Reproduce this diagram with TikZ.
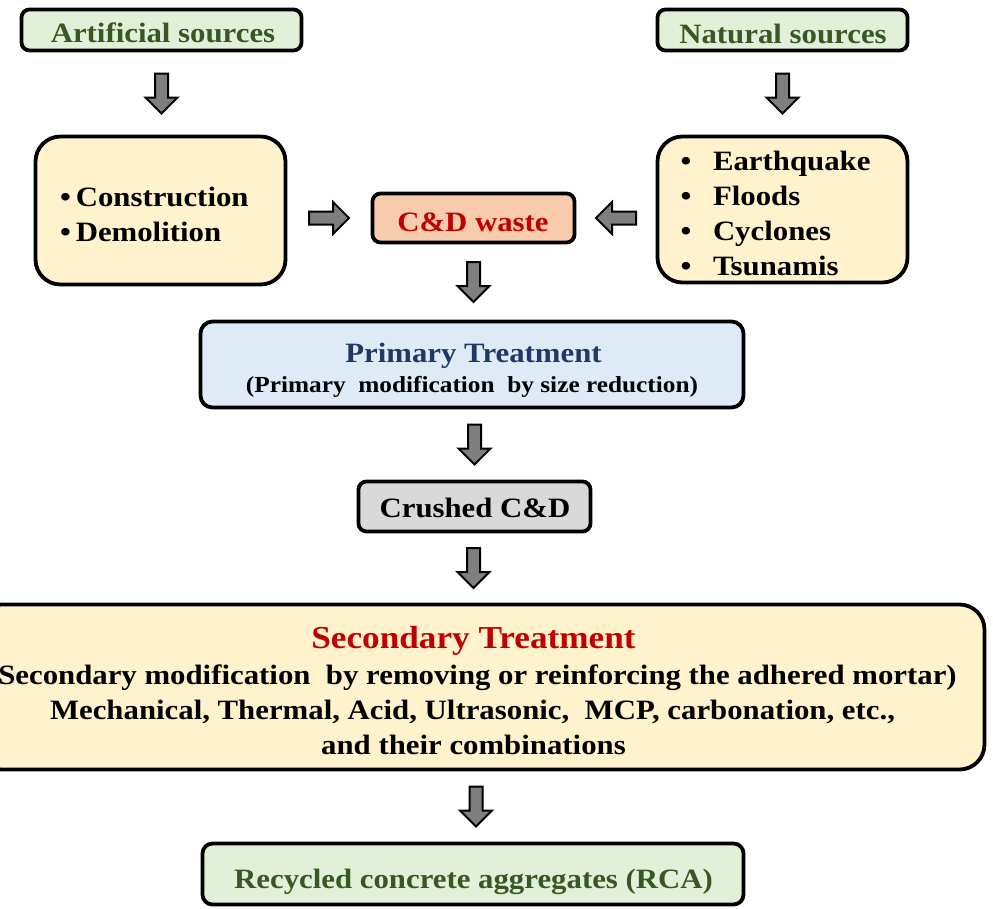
\documentclass[tikz,border=0pt]{standalone}
\usepackage{fontspec}
\setmainfont{Liberation Serif}[FakeStretch=1.1]
\usetikzlibrary{calc}
\definecolor{gfill}{HTML}{E2F0D9}
\definecolor{gtext}{HTML}{385723}
\definecolor{yfill}{HTML}{FFF2CC}
\definecolor{sfill}{HTML}{F8CBAD}
\definecolor{rtext}{HTML}{C00000}
\definecolor{bfill}{HTML}{DEEBF7}
\definecolor{btext}{HTML}{1F3864}
\definecolor{cfill}{HTML}{D9D9D9}
\definecolor{agray}{HTML}{7F7F7F}
\tikzset{
  box/.style={draw=black, line width=3.8pt, inner sep=0pt, outer sep=0pt},
  txt/.style={inner sep=0pt, outer sep=0pt, anchor=base, font=\bfseries\fontsize{28}{34}\selectfont},
  blk/.style={draw=black, line width=2pt, fill=agray, line join=miter},
  blockarrow/.style={to path={
    let \p1=(\tikztostart), \p2=(\tikztotarget),
        \n1={atan2(\y2-\y1,\x2-\x1)}, \p3=($(\p1)!0.5!(\p2)$) in
    ($(\p3)+(\n1+180:20pt)+(\n1-90:6.5pt)$) --
    ($(\p3)+(\n1:4pt)+(\n1-90:6.5pt)$) --
    ($(\p3)+(\n1:4pt)+(\n1-90:16pt)$) --
    ($(\p3)+(\n1:20pt)$) --
    ($(\p3)+(\n1:4pt)+(\n1+90:16pt)$) --
    ($(\p3)+(\n1:4pt)+(\n1+90:6.5pt)$) --
    ($(\p3)+(\n1+180:20pt)+(\n1+90:6.5pt)$) -- cycle}}
}
\begin{document}
\begin{tikzpicture}[x=1pt,y=-1pt]
\useasboundingbox (0,0) rectangle (993,908);
\clip (0,0) rectangle (993,908);

% boxes
\node[box, fill=gfill, rounded corners=8pt, minimum width=280pt, minimum height=41pt] (art) at (161.5,30) {};
\node[box, fill=gfill, rounded corners=8pt, minimum width=250pt, minimum height=41pt] (nat) at (782.5,30) {};
\node[box, fill=yfill, rounded corners=25pt, minimum width=250pt, minimum height=148pt] (cons) at (160.5,210.5) {};
\node[box, fill=yfill, rounded corners=25pt, minimum width=250pt, minimum height=146pt] (list) at (782.5,209.5) {};
\node[box, fill=sfill, rounded corners=8pt, minimum width=202pt, minimum height=49pt] (cd) at (473.5,218) {};
\node[box, fill=bfill, rounded corners=12pt, minimum width=543pt, minimum height=86pt] (prim) at (472,364.5) {};
\node[box, fill=cfill, rounded corners=8pt, minimum width=232pt, minimum height=50pt] (crush) at (474.5,506.5) {};
\node[box, fill=yfill, rounded corners=25pt, minimum width=1008pt, minimum height=165pt] (sec) at (480.5,687) {};
\node[box, fill=gfill, rounded corners=10pt, minimum width=541pt, minimum height=61pt] (rca) at (473,874) {};

% texts
\node[txt, text=gtext] (artt) at (163,42.5) {Artificial sources};
\node[txt, text=gtext] (natt) at (783,43) {Natural sources};
\node[txt, anchor=base west] (c1) at (60,206) {•\kern5pt Construction};
\node[txt, anchor=base west] (c2) at (60,241) {•\kern5pt Demolition};
\node[txt] (b1) at (686,170) {•};
\node[txt] (b2) at (686,205) {•};
\node[txt] (b3) at (686,240) {•};
\node[txt] (b4) at (686,275) {•};
\node[txt, anchor=base west] (l1) at (713,170) {Earthquake};
\node[txt, anchor=base west] (l2) at (713,205) {Floods};
\node[txt, anchor=base west] (l3) at (713,240) {Cyclones};
\node[txt, anchor=base west] (l4) at (713,275) {Tsunamis};
\node[txt, text=rtext] (cdt) at (473,231.5) {C\&D waste};
\node[txt, text=btext] (pt) at (473.5,362) {Primary Treatment};
\node[txt, font=\bfseries\fontsize{23}{28}\selectfont] (ps) at (472,392) {(Primary\ \ modification\ \ by size reduction)};
\node[txt] (crt) at (475,517) {Crushed C\&D};
\node[txt, text=rtext, font=\bfseries\fontsize{32}{38}\selectfont] (st) at (473.5,648) {Secondary Treatment};
\node[txt] (s1) at (477.5,684) {Secondary modification\ \ by removing or reinforcing the adhered mortar)};
\node[txt] (s2) at (472.5,719) {Mechanical, Thermal, Acid, Ultrasonic,\ \ MCP, carbonation, etc.,};
\node[txt] (s3) at (473.5,754) {and their combinations};
\node[txt, text=gtext] (rcat) at (473.5,888) {Recycled concrete aggregates (RCA)};

% block arrows
\draw[blk] (art.south) to[blockarrow] (art.south |- cons.north);
\draw[blk] (nat.south) to[blockarrow] (nat.south |- list.north);
\draw[blk] (cons.east |- cd.center) to[blockarrow] (cd.west);
\draw[blk] (list.west |- cd.center) to[blockarrow] (cd.east);
\draw[blk] (cd.south) to[blockarrow] (cd.south |- prim.north);
\draw[blk] (crush.north |- prim.south) to[blockarrow] (crush.north);
\draw[blk] ([xshift=-1pt]crush.south) to[blockarrow] ([xshift=-1pt]crush.south |- sec.north);
\draw[blk] ([xshift=3pt]rca.north |- sec.south) to[blockarrow] ([xshift=3pt]rca.north);
\end{tikzpicture}
\end{document}
